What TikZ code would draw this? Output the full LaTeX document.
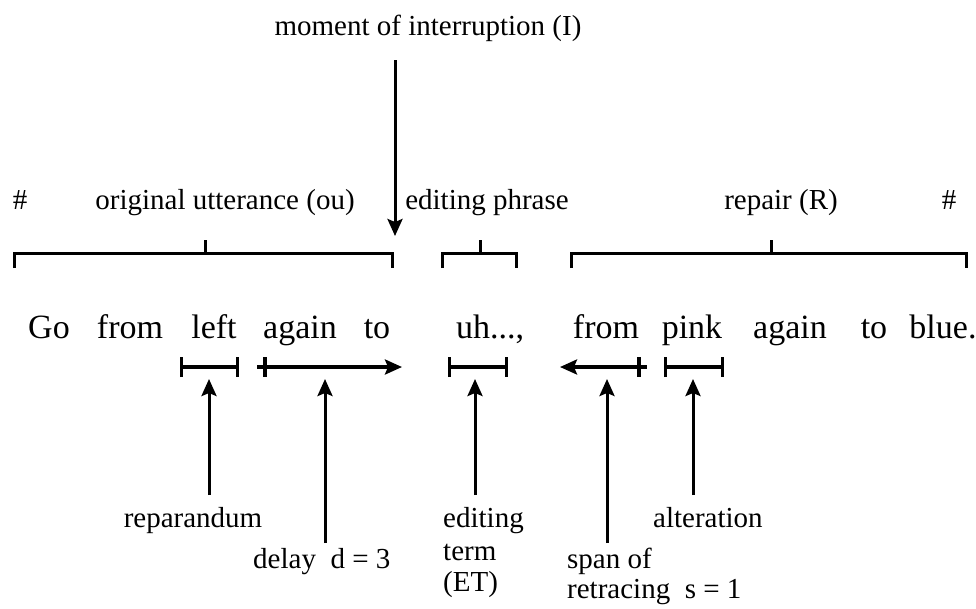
\documentclass[tikz,border=0pt]{standalone}
\usepackage{fontspec}
\setmainfont{Liberation Serif}
\usetikzlibrary{arrows.meta}

\tikzset{
  word/.style={anchor=base, inner sep=0pt, font=\fontsize{34}{40}\selectfont},
  lbl/.style={anchor=base, inner sep=0pt, font=\fontsize{29}{32}\selectfont},
  brk/.style={line width=3pt},
  bar/.style={line width=3.2pt},
  pointer/.style={line width=3pt, -{Stealth[length=17pt,width=15pt,inset=3pt]}}
}

\begin{document}
\begin{tikzpicture}[x=1pt,y=-1pt]
\useasboundingbox (0,0) rectangle (976,608);

% interruption point
\node[lbl] (moment) at (428,35) {moment of interruption (I)};
\coordinate (itop) at (395,60);
\coordinate (ibot) at (395,236);
\draw[pointer] (itop) -- (ibot);

% segment labels
\node[lbl] (hashL) at (20,209) {\#};
\node[lbl] (ou) at (225,209) {original utterance (ou)};
\node[lbl] (ep) at (487,209) {editing phrase};
\node[lbl] (rep) at (781,209) {repair (R)};
\node[lbl] (hashR) at (949,209) {\#};

% brackets: left end / right end / tick
\foreach \a/\b/\m in {14/392/205, 442/516/480, 571/966/771}{
  \draw[brk] (\a,268) -- (\a,253) -- (\b,253) -- (\b,268);
  \draw[brk] (\m,253) -- (\m,240);
}

% the utterance
\node[word] (w1) at (49,338) {Go};
\node[word] (w2) at (130,338) {from};
\node[word] (w3) at (214,338) {left};
\node[word] (w4) at (300,338) {again};
\node[word] (w5) at (377,338) {to};
\node[word] (w6) at (490,338) {uh...,};
\node[word] (w7) at (606,338) {from};
\node[word] (w8) at (692,338) {pink};
\node[word] (w9) at (790,338) {again};
\node[word] (w10) at (874,338) {to};
\node[word] (w11) at (943,338) {blue.};

% intervals under the words
\draw[bar, {Bar[width=20pt]}-{Bar[width=20pt]}] (180,367) -- (239,367);
\draw[bar, -{Stealth[length=17pt,width=15pt,inset=3pt]}] (257,367) -- (402,367);
\draw[bar] (265,357) -- (265,377);
\draw[bar, {Bar[width=20pt]}-{Bar[width=20pt]}] (448,367) -- (508,367);
\draw[bar, {Stealth[length=17pt,width=15pt,inset=3pt]}-] (560,367) -- (647,367);
\draw[bar] (639,357) -- (639,377);
\draw[bar, {Bar[width=20pt]}-{Bar[width=20pt]}] (664,367) -- (724,367);

% pointer ends
\coordinate (repTip) at (209,379);  \coordinate (repTail) at (209,495);
\coordinate (delTip) at (325,379);  \coordinate (delTail) at (325,543);
\coordinate (etTip) at (475,379);   \coordinate (etTail) at (475,495);
\coordinate (spanTip) at (607,379); \coordinate (spanTail) at (607,543);
\coordinate (altTip) at (693,379);  \coordinate (altTail) at (693,495);

\foreach \p in {rep,del,et,span,alt}
  \draw[pointer] (\p Tail) -- (\p Tip);

% bottom labels
\node[lbl] (reparandum) at (193,527) {reparandum};
\node[lbl, anchor=base west] (delay) at (253,568) {delay\ \ d = 3};
\node[lbl, anchor=base west] (et1) at (443,527) {editing};
\node[lbl, anchor=base west] (et2) at (443,560) {term};
\node[lbl, anchor=base west] (et3) at (443,591) {(ET)};
\node[lbl, anchor=base west] (alteration) at (653,527) {alteration};
\node[lbl, anchor=base west] (span1) at (567,568) {span of};
\node[lbl, anchor=base west] (span2) at (567,598) {retracing\ \ s = 1};
\end{tikzpicture}
\end{document}
